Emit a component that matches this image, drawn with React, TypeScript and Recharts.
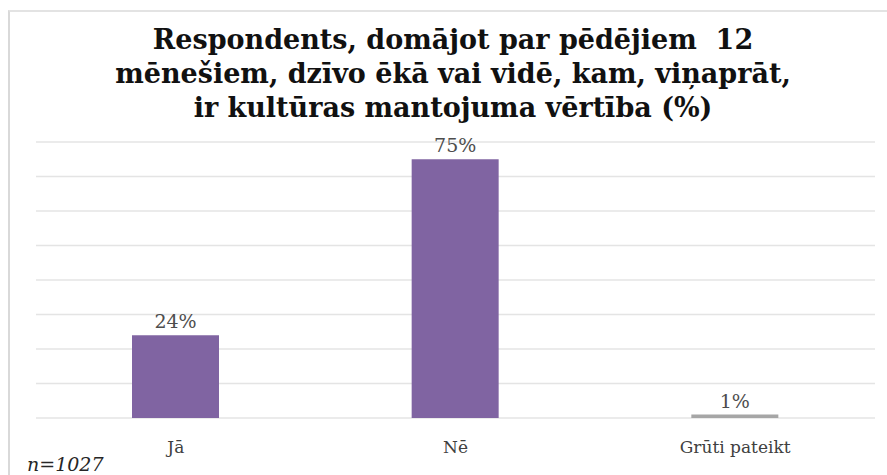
import React from 'react';
import { BarChart, Bar, XAxis, YAxis, CartesianGrid, LabelList, Cell } from 'recharts';

const categories = ['Jā', 'Nē', 'Grūti pateikt'];
const values = [24, 75, 1];
const barColors = ['#8064a2', '#8064a2', '#a6a6a6'];
const yTicks = [0, 10, 20, 30, 40, 50, 60, 70, 80];
const titleLines = [
  'Respondents, domājot par pēdējiem  12',
  'mēnešiem, dzīvo ēkā vai vidē, kam, viņaprāt,',
  'ir kultūras mantojuma vērtība (%)',
];

const data = categories.map((name, i) => ({ name, value: values[i] }));

const serif = '"DejaVu Serif", "Liberation Serif", serif';

export default function App() {
  return (
    <div style={{ position: 'absolute', left: 0, top: 0, width: 887, height: 475, overflow: 'hidden', background: '#fff' }}>
      {/* frame */}
      <div
        style={{
          position: 'absolute',
          left: 8,
          top: 10,
          width: 900,
          height: 500,
          borderLeft: '2px solid #d9d9d9',
          borderTop: '2px solid #e3e3e3',
        }}
      />

      {/* title */}
      {titleLines.map((line, i) => (
        <div
          key={i}
          style={{
            position: 'absolute',
            left: 0,
            width: 906,
            top: 24 + i * 34,
            textAlign: 'center',
            fontFamily: serif,
            fontWeight: 'bold',
            fontSize: 27,
            lineHeight: '32px',
            color: '#111',
            whiteSpace: 'pre',
          }}
        >
          {line}
        </div>
      ))}

      <div style={{ position: 'absolute', left: 0, top: 0 }}>
        <BarChart
          width={887}
          height={475}
          data={data}
          margin={{ top: 142, right: 12, bottom: 27, left: 36 }}
        >
          <CartesianGrid vertical={false} stroke="#e4e4e4" strokeWidth={1.5} />
          <YAxis hide domain={[0, 80]} ticks={yTicks} />
          <XAxis
            dataKey="name"
            axisLine={false}
            tickLine={false}
            height={30}
            tick={{ fill: '#404040', fontSize: 17, fontFamily: serif }}
            tickMargin={17}
          />
          <Bar dataKey="value" barSize={87} isAnimationActive={false}>
            {data.map((d, i) => (
              <Cell key={d.name} fill={barColors[i]} />
            ))}
            <LabelList
              dataKey="value"
              position="top"
              offset={7}
              formatter={(v: number) => `${v}%`}
              style={{ fill: '#4d4d4d', fontSize: 19, fontFamily: serif }}
            />
          </Bar>
        </BarChart>
      </div>

      <div
        style={{
          position: 'absolute',
          left: 27,
          top: 455,
          fontFamily: serif,
          fontStyle: 'italic',
          fontSize: 19,
          color: '#262626',
          lineHeight: '19px',
        }}
      >
        n=1027
      </div>
    </div>
  );
}
